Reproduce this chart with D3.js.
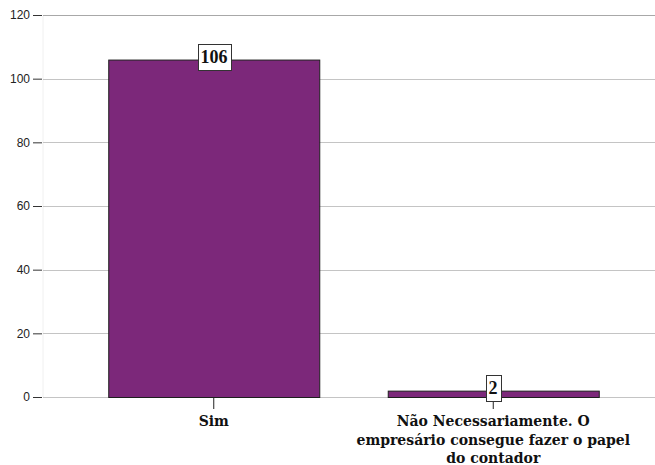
<!DOCTYPE html>
<html>
<head>
<meta charset="utf-8">
<script src="https://cdn.jsdelivr.net/npm/d3@7"></script>
<style>
  html, body { margin: 0; padding: 0; background: #fff; }
  svg { display: block; }
</style>
</head>
<body>
<svg id="chart" width="655" height="465"></svg>
<script>
// Category names (multi-line labels split on "\n")
const categories = ["Sim", "Não Necessariamente. O\nempresário consegue fazer o papel\ndo contador"];
// Frequency for each category
const counts = [106, 2];
// Y axis ticks
const yTicks = [0, 20, 40, 60, 80, 100, 120];

const W = 655, H = 465;
const plot = { left: 43, right: 655, top: 15, bottom: 397 };

const svg = d3.select("#chart");

const y = d3.scaleLinear().domain([0, 120]).range([plot.bottom, plot.top]);
const x = d3.scaleBand()
  .domain(categories)
  .range([74, 633])
  .paddingInner(0.245)
  .paddingOuter(0.1225);

// faint plot frame on the left
svg.append("line")
  .attr("x1", plot.left).attr("x2", plot.left)
  .attr("y1", plot.top).attr("y2", plot.bottom)
  .attr("stroke", "#f0f0f0");

// horizontal grid lines
svg.append("g").selectAll("line").data(yTicks).join("line")
  .attr("x1", plot.left).attr("x2", plot.right)
  .attr("y1", d => Math.round(y(d)) + 0.5).attr("y2", d => Math.round(y(d)) + 0.5)
  .attr("stroke", d => d === 120 ? "#a8a8a8" : "#c4c4c4").attr("stroke-width", 1);

// y axis: ticks and labels only
const yAxis = d3.axisLeft(y).tickValues(yTicks).tickSize(9).tickPadding(3);
const gy = svg.append("g").attr("transform", `translate(${plot.left - 1},0)`).call(yAxis);
gy.select(".domain").remove();
gy.selectAll(".tick line").attr("stroke", "#333");
gy.selectAll(".tick text")
  .attr("font-family", "Liberation Sans, Arial, sans-serif")
  .attr("font-size", 12).attr("fill", "#222");

// x axis ticks
const xAxis = d3.axisBottom(x).tickSize(12).tickFormat("");
const gx = svg.append("g").attr("transform", `translate(0,${plot.bottom})`).call(xAxis);
gx.select(".domain").remove();
gx.selectAll(".tick line").attr("stroke", "#222");

// bars
svg.append("g").selectAll("rect").data(counts).join("rect")
  .attr("x", (d, i) => x(categories[i]) + 0.5)
  .attr("y", d => y(d) + 0.5)
  .attr("width", x.bandwidth())
  .attr("height", d => plot.bottom - y(d))
  .attr("fill", "#7c287a")
  .attr("stroke", "#1e1e1e").attr("stroke-width", 1);

// category labels
const labelFont = "DejaVu Serif, serif";
categories.forEach((c, i) => {
  const cx = x(c) + x.bandwidth() / 2;
  const t = svg.append("text")
    .attr("x", cx)
    .attr("y", 426)
    .attr("text-anchor", "middle")
    .attr("font-family", labelFont)
    .attr("font-weight", "bold")
    .attr("font-size", 14)
    .attr("fill", "#111");
  c.split("\n").forEach((line, k) => {
    t.append("tspan").attr("x", cx).attr("dy", k === 0 ? 0 : 18.5).text(line);
  });
});

// value labels in boxes
const vl = svg.append("g").selectAll("g").data(counts).join("g")
  .attr("transform", (d, i) => `translate(${Math.round(x(categories[i]) + x.bandwidth() / 2)},${Math.round(y(d) - 3)})`);
vl.append("text")
  .attr("text-anchor", "middle")
  .attr("dy", "0.35em")
  .attr("font-family", "Liberation Serif, Times New Roman, serif")
  .attr("font-weight", "bold")
  .attr("font-size", 18)
  .attr("fill", "#111")
  .text(d => d);
vl.each(function () {
  const g = d3.select(this);
  const bb = g.select("text").node().getBBox();
  g.insert("rect", "text")
    .attr("x", Math.round(bb.x - 3) + 0.5)
    .attr("y", -13 + 0.5)
    .attr("width", Math.round(bb.width + 6))
    .attr("height", 26)
    .attr("fill", "#fff")
    .attr("stroke", "#333");
});
</script>
</body>
</html>
